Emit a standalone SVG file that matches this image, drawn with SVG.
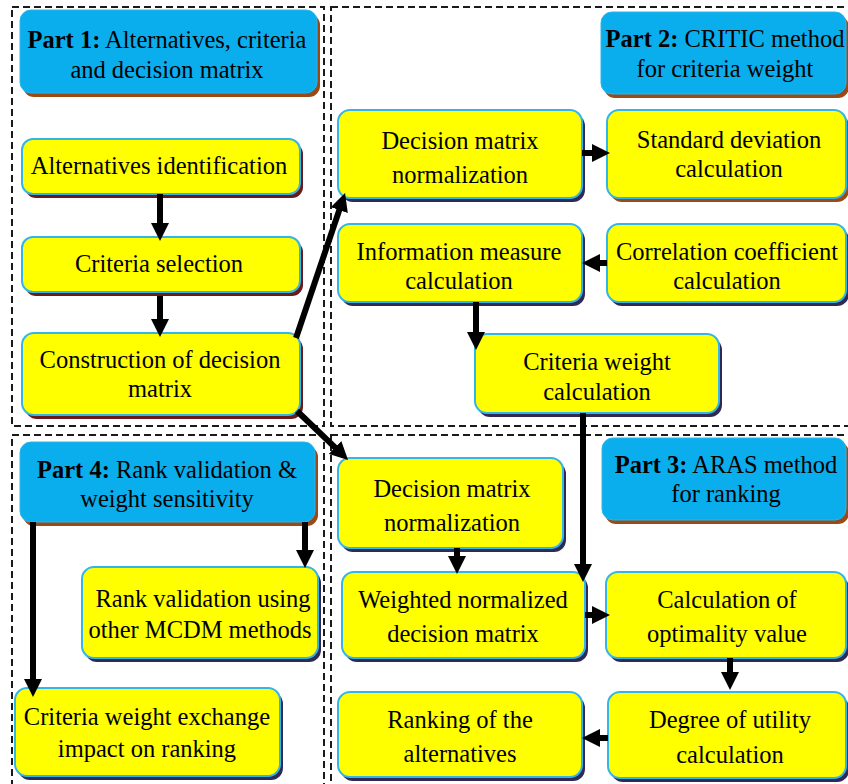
<svg xmlns="http://www.w3.org/2000/svg" width="848" height="784" viewBox="0 0 848 784">
<style>
.frame{fill:none;stroke:#1a1a1a;stroke-width:2;stroke-dasharray:7 4}
.hdr{fill:#0AAEEC;stroke:#2AB4EC;stroke-width:1}
.hsh{fill:#9A4A16}
.box{fill:#FFFF00;stroke:#33B5E8;stroke-width:2}
.sh{fill:#2E2A55}
.shr{fill:#6A1A1A}
.shb{fill:#9A4A16}
text{font-family:"Liberation Serif","Times New Roman",serif;font-size:24.5px;fill:#000;text-anchor:middle}
.b{font-weight:bold}
.arr{fill:none;stroke:#000;stroke-width:6;marker-end:url(#ah)}
</style>
<defs>
<marker id="ah" markerUnits="userSpaceOnUse" markerWidth="18" markerHeight="18" refX="6" refY="9" orient="auto" viewBox="0 0 18 18">
<path d="M0,0 L18,9 L0,18 z" fill="#000"/>
</marker>
</defs>
<g id="frames">
<rect class="frame" x="12" y="7" width="312" height="419"/>
<rect class="frame" x="331" y="7" width="540" height="419"/>
<rect class="frame" x="12" y="435" width="312" height="370"/>
<rect class="frame" x="331" y="435" width="540" height="370"/>
</g>
<g id="part1">
<rect class="hsh" x="23" y="14" width="297" height="83" rx="11"/>
<rect class="hdr" x="20" y="10" width="297" height="83" rx="11"/>
<text x="167" y="48"><tspan class="b">Part 1:</tspan> Alternatives, criteria</text>
<text x="167" y="78">and decision matrix</text>
</g>
<g id="part2">
<rect class="hsh" x="604" y="16" width="245" height="82" rx="11"/>
<rect class="hdr" x="601" y="12" width="245" height="82" rx="11"/>
<text x="725" y="47"><tspan class="b">Part 2:</tspan> CRITIC method</text>
<text x="725" y="77">for criteria weight</text>
</g>
<g id="part3">
<rect class="hsh" x="605" y="442" width="244" height="82" rx="11"/>
<rect class="hdr" x="602" y="438" width="244" height="82" rx="11"/>
<text x="726" y="473"><tspan class="b">Part 3:</tspan> ARAS method</text>
<text x="726" y="502">for ranking</text>
</g>
<g id="part4">
<rect class="hsh" x="23" y="446" width="295" height="80" rx="11"/>
<rect class="hdr" x="20" y="442" width="295" height="80" rx="11"/>
<text x="167" y="478"><tspan class="b">Part 4:</tspan> Rank validation &amp;</text>
<text x="167" y="507">weight sensitivity</text>
</g>
<g id="alt">
<rect class="shr" x="25" y="143" width="278" height="55" rx="11"/>
<rect class="box" x="22" y="139" width="278" height="55" rx="11"/>
<text x="159" y="174">Alternatives identification</text>
</g>
<g id="crit">
<rect class="shr" x="25" y="241" width="278" height="55" rx="11"/>
<rect class="box" x="22" y="237" width="278" height="55" rx="11"/>
<text x="159" y="272">Criteria selection</text>
</g>
<g id="cons">
<rect class="shr" x="25" y="337" width="278" height="82" rx="12"/>
<rect class="box" x="22" y="333" width="278" height="82" rx="12"/>
<text x="160" y="368">Construction of decision</text>
<text x="160" y="397">matrix</text>
</g>
<g id="dmn1">
<rect class="sh" x="341" y="114" width="244" height="88" rx="12"/>
<rect class="box" x="338" y="110" width="244" height="88" rx="12"/>
<text x="460" y="149">Decision matrix</text>
<text x="460" y="183">normalization</text>
</g>
<g id="sd">
<rect class="shb" x="610" y="114" width="239" height="88" rx="12"/>
<rect class="box" x="607" y="110" width="239" height="88" rx="12"/>
<text x="729" y="148">Standard deviation</text>
<text x="729" y="177">calculation</text>
</g>
<g id="info">
<rect class="sh" x="341" y="228" width="244" height="78" rx="12"/>
<rect class="box" x="338" y="224" width="244" height="78" rx="12"/>
<text x="459" y="260">Information measure</text>
<text x="459" y="289">calculation</text>
</g>
<g id="corr">
<rect class="sh" x="610" y="228" width="239" height="78" rx="12"/>
<rect class="box" x="607" y="224" width="239" height="78" rx="12"/>
<text x="727" y="260">Correlation coefficient</text>
<text x="727" y="289">calculation</text>
</g>
<g id="cw">
<rect class="sh" x="478" y="338" width="244" height="79" rx="12"/>
<rect class="box" x="475" y="334" width="244" height="79" rx="12"/>
<text x="597" y="370">Criteria weight</text>
<text x="597" y="400">calculation</text>
</g>
<g id="dmn2">
<rect class="sh" x="341" y="462" width="225" height="90" rx="12"/>
<rect class="box" x="338" y="458" width="225" height="90" rx="12"/>
<text x="452" y="497">Decision matrix</text>
<text x="452" y="531">normalization</text>
</g>
<g id="wn">
<rect class="sh" x="345" y="576" width="243" height="86" rx="12"/>
<rect class="box" x="342" y="572" width="243" height="86" rx="12"/>
<text x="463" y="608">Weighted normalized</text>
<text x="463" y="642">decision matrix</text>
</g>
<g id="calc">
<rect class="sh" x="609" y="576" width="240" height="86" rx="12"/>
<rect class="box" x="606" y="572" width="240" height="86" rx="12"/>
<text x="727" y="608">Calculation of</text>
<text x="727" y="642">optimality value</text>
</g>
<g id="rank">
<rect class="sh" x="341" y="696" width="244" height="85" rx="12"/>
<rect class="box" x="338" y="692" width="244" height="85" rx="12"/>
<text x="460" y="728">Ranking of the</text>
<text x="460" y="762">alternatives</text>
</g>
<g id="deg">
<rect class="sh" x="611" y="696" width="238" height="86" rx="12"/>
<rect class="box" x="608" y="692" width="238" height="86" rx="12"/>
<text x="730" y="728">Degree of utility</text>
<text x="730" y="763">calculation</text>
</g>
<g id="rv">
<rect class="sh" x="85" y="571" width="236" height="91" rx="12"/>
<rect class="box" x="82" y="567" width="236" height="91" rx="12"/>
<text x="203" y="607">Rank validation using</text>
<text x="200" y="638">other MCDM methods</text>
</g>
<g id="cwe">
<rect class="sh" x="18" y="692" width="265" height="88" rx="12"/>
<rect class="box" x="15" y="688" width="265" height="88" rx="12"/>
<text x="147" y="725">Criteria weight exchange</text>
<text x="147" y="757">impact on ranking</text>
</g>
<g id="connectors">
<path class="arr" d="M160,194 L160,229"/>
<path class="arr" d="M160,296 L160,325"/>
<path class="arr" d="M296,338 L341.2,204.4"/>
<path class="arr" d="M297,411 L339.4,451.6"/>
<path class="arr" d="M582,153 L598,153"/>
<path class="arr" d="M607,263 L594,263"/>
<path class="arr" d="M476,302 L476,338"/>
<path class="arr" d="M583,413 L583,570"/>
<path class="arr" d="M457,548 L457,562"/>
<path class="arr" d="M585,615 L598,615"/>
<path class="arr" d="M730,658 L730,678"/>
<path class="arr" d="M608,738 L594,738"/>
<path class="arr" d="M305,522 L305,556"/>
<path class="arr" d="M33,522 L33,685"/>
</g>
</svg>
